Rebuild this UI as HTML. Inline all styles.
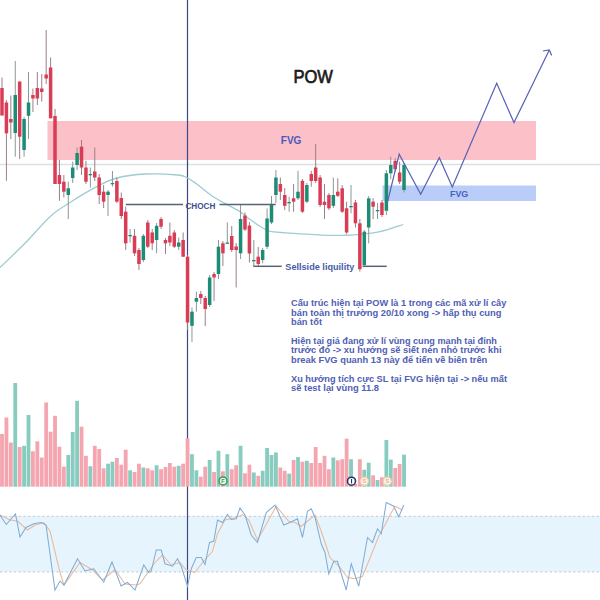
<!DOCTYPE html>
<html><head><meta charset="utf-8">
<style>
html,body{margin:0;padding:0;background:#fff;width:600px;height:600px;overflow:hidden}
svg{display:block}
text{font-family:"Liberation Sans",sans-serif}
</style></head><body>
<svg width="600" height="600" viewBox="0 0 600 600">
<rect width="600" height="600" fill="#ffffff"/>
<!-- FVG pink -->
<rect x="47.5" y="121" width="488.5" height="39" fill="#fbc0c8"/>
<!-- blue FVG -->
<rect x="382.5" y="185.5" width="153.5" height="15.5" fill="#b9cdf8"/>
<!-- gray horizontal line -->
<line x1="0" y1="164.5" x2="600" y2="164.5" stroke="#dcdfe3" stroke-width="1.6"/>
<!-- oscillator band -->
<rect x="0" y="516" width="600" height="56" fill="#e6f5fd"/>
<line x1="0" y1="516.3" x2="600" y2="516.3" stroke="#c2c5ca" stroke-width="1" stroke-dasharray="2,2.7"/>
<line x1="0" y1="572" x2="600" y2="572" stroke="#c2c5ca" stroke-width="1" stroke-dasharray="2,2.7"/>
<!-- vertical line -->
<line x1="187.5" y1="0" x2="187.5" y2="600" stroke="#3f4884" stroke-width="1.2"/>
<!-- volume -->
<rect x="0.10" y="434.0" width="3.8" height="52.7" fill="#f4a5af"/>
<rect x="4.52" y="417.5" width="3.8" height="69.2" fill="#f4a5af"/>
<rect x="8.94" y="442.5" width="3.8" height="44.2" fill="#f4a5af"/>
<rect x="13.35" y="383.0" width="3.8" height="103.7" fill="#88cbbf"/>
<rect x="17.77" y="447.0" width="3.8" height="39.7" fill="#f4a5af"/>
<rect x="22.19" y="445.8" width="3.8" height="40.9" fill="#88cbbf"/>
<rect x="26.61" y="415.0" width="3.8" height="71.7" fill="#88cbbf"/>
<rect x="31.03" y="451.3" width="3.8" height="35.4" fill="#f4a5af"/>
<rect x="35.44" y="441.3" width="3.8" height="45.4" fill="#f4a5af"/>
<rect x="39.86" y="457.5" width="3.8" height="29.2" fill="#f4a5af"/>
<rect x="44.28" y="402.5" width="3.8" height="84.2" fill="#f4a5af"/>
<rect x="48.70" y="431.7" width="3.8" height="55.0" fill="#f4a5af"/>
<rect x="53.12" y="415.8" width="3.8" height="70.9" fill="#f4a5af"/>
<rect x="57.53" y="446.7" width="3.8" height="40.0" fill="#f4a5af"/>
<rect x="61.95" y="466.7" width="3.8" height="20.0" fill="#f4a5af"/>
<rect x="66.37" y="455.0" width="3.8" height="31.7" fill="#88cbbf"/>
<rect x="70.79" y="432.0" width="3.8" height="54.7" fill="#88cbbf"/>
<rect x="75.21" y="400.8" width="3.8" height="85.9" fill="#88cbbf"/>
<rect x="79.62" y="426.7" width="3.8" height="60.0" fill="#f4a5af"/>
<rect x="84.04" y="455.8" width="3.8" height="30.9" fill="#f4a5af"/>
<rect x="88.46" y="466.3" width="3.8" height="20.4" fill="#88cbbf"/>
<rect x="92.88" y="445.8" width="3.8" height="40.9" fill="#f4a5af"/>
<rect x="97.30" y="449.0" width="3.8" height="37.7" fill="#f4a5af"/>
<rect x="101.71" y="468.3" width="3.8" height="18.4" fill="#f4a5af"/>
<rect x="106.13" y="463.7" width="3.8" height="23.0" fill="#88cbbf"/>
<rect x="110.55" y="461.7" width="3.8" height="25.0" fill="#88cbbf"/>
<rect x="114.97" y="458.0" width="3.8" height="28.7" fill="#f4a5af"/>
<rect x="119.39" y="464.7" width="3.8" height="22.0" fill="#f4a5af"/>
<rect x="123.80" y="449.7" width="3.8" height="37.0" fill="#f4a5af"/>
<rect x="128.22" y="470.3" width="3.8" height="16.4" fill="#88cbbf"/>
<rect x="132.64" y="472.0" width="3.8" height="14.7" fill="#f4a5af"/>
<rect x="137.06" y="463.7" width="3.8" height="23.0" fill="#f4a5af"/>
<rect x="141.48" y="467.5" width="3.8" height="19.2" fill="#88cbbf"/>
<rect x="145.89" y="468.3" width="3.8" height="18.4" fill="#f4a5af"/>
<rect x="150.31" y="470.3" width="3.8" height="16.4" fill="#f4a5af"/>
<rect x="154.73" y="465.3" width="3.8" height="21.4" fill="#88cbbf"/>
<rect x="159.15" y="469.2" width="3.8" height="17.5" fill="#f4a5af"/>
<rect x="163.57" y="467.0" width="3.8" height="19.7" fill="#f4a5af"/>
<rect x="167.98" y="463.0" width="3.8" height="23.7" fill="#f4a5af"/>
<rect x="172.40" y="466.7" width="3.8" height="20.0" fill="#f4a5af"/>
<rect x="176.82" y="465.8" width="3.8" height="20.9" fill="#88cbbf"/>
<rect x="181.24" y="463.7" width="3.8" height="23.0" fill="#f4a5af"/>
<rect x="185.66" y="438.3" width="3.8" height="48.4" fill="#f4a5af"/>
<rect x="190.07" y="454.2" width="3.8" height="32.5" fill="#88cbbf"/>
<rect x="194.49" y="470.3" width="3.8" height="16.4" fill="#88cbbf"/>
<rect x="198.91" y="476.7" width="3.8" height="10.0" fill="#f4a5af"/>
<rect x="203.33" y="466.7" width="3.8" height="20.0" fill="#f4a5af"/>
<rect x="207.75" y="460.0" width="3.8" height="26.7" fill="#88cbbf"/>
<rect x="212.16" y="472.0" width="3.8" height="14.7" fill="#f4a5af"/>
<rect x="216.58" y="450.8" width="3.8" height="35.9" fill="#88cbbf"/>
<rect x="221.00" y="471.3" width="3.8" height="15.4" fill="#f4a5af"/>
<rect x="225.42" y="454.2" width="3.8" height="32.5" fill="#88cbbf"/>
<rect x="229.84" y="469.2" width="3.8" height="17.5" fill="#f4a5af"/>
<rect x="234.25" y="465.3" width="3.8" height="21.4" fill="#f4a5af"/>
<rect x="238.67" y="445.8" width="3.8" height="40.9" fill="#88cbbf"/>
<rect x="243.09" y="473.3" width="3.8" height="13.4" fill="#f4a5af"/>
<rect x="247.51" y="464.7" width="3.8" height="22.0" fill="#f4a5af"/>
<rect x="251.93" y="472.5" width="3.8" height="14.2" fill="#88cbbf"/>
<rect x="256.34" y="475.8" width="3.8" height="10.9" fill="#f4a5af"/>
<rect x="260.76" y="470.8" width="3.8" height="15.9" fill="#88cbbf"/>
<rect x="265.18" y="448.0" width="3.8" height="38.7" fill="#88cbbf"/>
<rect x="269.60" y="455.0" width="3.8" height="31.7" fill="#88cbbf"/>
<rect x="274.02" y="452.5" width="3.8" height="34.2" fill="#88cbbf"/>
<rect x="278.43" y="467.5" width="3.8" height="19.2" fill="#f4a5af"/>
<rect x="282.85" y="470.8" width="3.8" height="15.9" fill="#f4a5af"/>
<rect x="287.27" y="473.7" width="3.8" height="13.0" fill="#88cbbf"/>
<rect x="291.69" y="460.0" width="3.8" height="26.7" fill="#f4a5af"/>
<rect x="296.11" y="457.0" width="3.8" height="29.7" fill="#88cbbf"/>
<rect x="300.52" y="461.7" width="3.8" height="25.0" fill="#f4a5af"/>
<rect x="304.94" y="460.8" width="3.8" height="25.9" fill="#88cbbf"/>
<rect x="309.36" y="463.0" width="3.8" height="23.7" fill="#f4a5af"/>
<rect x="313.78" y="447.0" width="3.8" height="39.7" fill="#f4a5af"/>
<rect x="318.20" y="463.0" width="3.8" height="23.7" fill="#f4a5af"/>
<rect x="322.61" y="455.8" width="3.8" height="30.9" fill="#f4a5af"/>
<rect x="327.03" y="469.2" width="3.8" height="17.5" fill="#f4a5af"/>
<rect x="331.45" y="457.5" width="3.8" height="29.2" fill="#88cbbf"/>
<rect x="335.87" y="460.3" width="3.8" height="26.4" fill="#f4a5af"/>
<rect x="340.29" y="459.2" width="3.8" height="27.5" fill="#f4a5af"/>
<rect x="344.70" y="438.7" width="3.8" height="48.0" fill="#f4a5af"/>
<rect x="349.12" y="459.2" width="3.8" height="27.5" fill="#88cbbf"/>
<rect x="353.54" y="484.0" width="3.8" height="2.7" fill="#f4a5af"/>
<rect x="357.96" y="459.2" width="3.8" height="27.5" fill="#f4a5af"/>
<rect x="362.38" y="469.7" width="3.8" height="17.0" fill="#88cbbf"/>
<rect x="366.79" y="462.7" width="3.8" height="24.0" fill="#88cbbf"/>
<rect x="371.21" y="475.3" width="3.8" height="11.4" fill="#f4a5af"/>
<rect x="375.63" y="480.0" width="3.8" height="6.7" fill="#88cbbf"/>
<rect x="380.05" y="477.3" width="3.8" height="9.4" fill="#f4a5af"/>
<rect x="384.47" y="440.0" width="3.8" height="46.7" fill="#88cbbf"/>
<rect x="388.88" y="459.6" width="3.8" height="27.1" fill="#88cbbf"/>
<rect x="393.30" y="468.0" width="3.8" height="18.7" fill="#f4a5af"/>
<rect x="397.72" y="464.0" width="3.8" height="22.7" fill="#f4a5af"/>
<rect x="402.14" y="454.7" width="3.8" height="32.0" fill="#88cbbf"/>
<!-- MA -->
<path d="M0,267.5 C4.17,263.47 16.67,251.77 25,243.3 C33.33,234.83 42.50,223.50 50,216.7 C57.50,209.90 62.22,207.50 70,202.5 C77.78,197.50 88.92,190.78 96.7,186.7 C104.48,182.62 108.65,180.12 116.7,178 C124.75,175.88 134.78,174.50 145,174 C155.22,173.50 170.92,174.33 178,175 C185.08,175.67 184.38,176.50 187.5,178 C190.62,179.50 192.40,180.88 196.7,184 C201.00,187.12 206.08,192.08 213.3,196.7 C220.52,201.32 234.22,208.15 240,211.7 C245.78,215.25 244.12,215.23 248,218 C251.88,220.77 259.35,226.02 263.3,228.3 C267.25,230.58 266.75,230.87 271.7,231.7 C276.65,232.53 283.83,232.70 293,233.3 C302.17,233.90 318.32,234.97 326.7,235.3 C335.08,235.63 338.30,235.40 343.3,235.3 C348.30,235.20 350.58,235.30 356.7,234.7 C362.82,234.10 372.23,233.40 380,231.7 C387.77,230.00 399.42,225.70 403.3,224.5" fill="none" stroke="#9dccd2" stroke-width="1.3"/>
<!-- candles -->
<line x1="2.00" y1="77.5" x2="2.00" y2="115.5" stroke="#9c7f88" stroke-width="1"/>
<rect x="0.25" y="88.0" width="3.5" height="27.5" fill="#da3c56"/>
<line x1="6.42" y1="100.0" x2="6.42" y2="180.8" stroke="#9c7f88" stroke-width="1"/>
<rect x="4.67" y="102.5" width="3.5" height="30.8" fill="#da3c56"/>
<line x1="10.84" y1="95.5" x2="10.84" y2="139.0" stroke="#9c7f88" stroke-width="1"/>
<rect x="9.09" y="119.0" width="3.5" height="3.5" fill="#da3c56"/>
<line x1="15.25" y1="61.0" x2="15.25" y2="156.7" stroke="#8a9995" stroke-width="1"/>
<rect x="13.50" y="95.0" width="3.5" height="38.0" fill="#1d8c74"/>
<line x1="19.67" y1="81.5" x2="19.67" y2="159.0" stroke="#9c7f88" stroke-width="1"/>
<rect x="17.92" y="81.5" width="3.5" height="55.2" fill="#da3c56"/>
<line x1="24.09" y1="117.0" x2="24.09" y2="156.7" stroke="#8a9995" stroke-width="1"/>
<rect x="22.34" y="119.0" width="3.5" height="31.0" fill="#1d8c74"/>
<line x1="28.51" y1="72.0" x2="28.51" y2="139.0" stroke="#8a9995" stroke-width="1"/>
<rect x="26.76" y="102.5" width="3.5" height="13.3" fill="#1d8c74"/>
<line x1="32.93" y1="88.5" x2="32.93" y2="112.0" stroke="#9c7f88" stroke-width="1"/>
<rect x="31.18" y="95.0" width="3.5" height="3.5" fill="#da3c56"/>
<line x1="37.34" y1="72.0" x2="37.34" y2="105.0" stroke="#9c7f88" stroke-width="1"/>
<rect x="35.59" y="88.0" width="3.5" height="10.5" fill="#da3c56"/>
<line x1="41.76" y1="74.0" x2="41.76" y2="101.7" stroke="#9c7f88" stroke-width="1"/>
<rect x="40.01" y="88.5" width="3.5" height="3.5" fill="#da3c56"/>
<line x1="46.18" y1="30.0" x2="46.18" y2="84.0" stroke="#9c7f88" stroke-width="1"/>
<rect x="44.43" y="74.5" width="3.5" height="4.0" fill="#da3c56"/>
<line x1="50.60" y1="57.5" x2="50.60" y2="118.3" stroke="#9c7f88" stroke-width="1"/>
<rect x="48.85" y="67.5" width="3.5" height="50.8" fill="#da3c56"/>
<line x1="55.02" y1="109.0" x2="55.02" y2="184.0" stroke="#9c7f88" stroke-width="1"/>
<rect x="53.27" y="116.0" width="3.5" height="68.0" fill="#da3c56"/>
<line x1="59.43" y1="160.0" x2="59.43" y2="200.8" stroke="#9c7f88" stroke-width="1"/>
<rect x="57.68" y="175.0" width="3.5" height="9.0" fill="#da3c56"/>
<line x1="63.85" y1="175.0" x2="63.85" y2="197.5" stroke="#9c7f88" stroke-width="1"/>
<rect x="62.10" y="181.7" width="3.5" height="10.0" fill="#da3c56"/>
<line x1="68.27" y1="181.7" x2="68.27" y2="219.0" stroke="#8a9995" stroke-width="1"/>
<rect x="66.52" y="188.3" width="3.5" height="6.7" fill="#1d8c74"/>
<line x1="72.69" y1="161.7" x2="72.69" y2="183.0" stroke="#8a9995" stroke-width="1"/>
<rect x="70.94" y="167.5" width="3.5" height="10.5" fill="#1d8c74"/>
<line x1="77.11" y1="147.5" x2="77.11" y2="170.0" stroke="#8a9995" stroke-width="1"/>
<rect x="75.36" y="153.0" width="3.5" height="12.0" fill="#1d8c74"/>
<line x1="81.52" y1="140.0" x2="81.52" y2="175.0" stroke="#9c7f88" stroke-width="1"/>
<rect x="79.77" y="146.7" width="3.5" height="20.8" fill="#da3c56"/>
<line x1="85.94" y1="160.8" x2="85.94" y2="184.0" stroke="#9c7f88" stroke-width="1"/>
<rect x="84.19" y="167.5" width="3.5" height="14.2" fill="#da3c56"/>
<line x1="90.36" y1="167.5" x2="90.36" y2="187.5" stroke="#8a9995" stroke-width="1"/>
<rect x="88.61" y="174.0" width="3.5" height="1.3" fill="#1d8c74"/>
<line x1="94.78" y1="147.5" x2="94.78" y2="181.0" stroke="#9c7f88" stroke-width="1"/>
<rect x="93.03" y="171.5" width="3.5" height="6.0" fill="#da3c56"/>
<line x1="99.20" y1="174.0" x2="99.20" y2="204.0" stroke="#9c7f88" stroke-width="1"/>
<rect x="97.45" y="177.5" width="3.5" height="17.5" fill="#da3c56"/>
<line x1="103.61" y1="185.0" x2="103.61" y2="208.0" stroke="#9c7f88" stroke-width="1"/>
<rect x="101.86" y="191.7" width="3.5" height="10.0" fill="#da3c56"/>
<line x1="108.03" y1="190.0" x2="108.03" y2="216.0" stroke="#8a9995" stroke-width="1"/>
<rect x="106.28" y="191.7" width="3.5" height="3.3" fill="#1d8c74"/>
<line x1="112.45" y1="171.0" x2="112.45" y2="186.7" stroke="#8a9995" stroke-width="1"/>
<rect x="110.70" y="183.0" width="3.5" height="1.3" fill="#1d8c74"/>
<line x1="116.87" y1="177.5" x2="116.87" y2="203.0" stroke="#9c7f88" stroke-width="1"/>
<rect x="115.12" y="181.0" width="3.5" height="20.7" fill="#da3c56"/>
<line x1="121.29" y1="192.5" x2="121.29" y2="219.0" stroke="#9c7f88" stroke-width="1"/>
<rect x="119.54" y="198.0" width="3.5" height="18.0" fill="#da3c56"/>
<line x1="125.70" y1="206.7" x2="125.70" y2="250.0" stroke="#9c7f88" stroke-width="1"/>
<rect x="123.95" y="211.7" width="3.5" height="31.6" fill="#da3c56"/>
<line x1="130.12" y1="229.0" x2="130.12" y2="242.5" stroke="#8a9995" stroke-width="1"/>
<rect x="128.37" y="235.0" width="3.5" height="1.3" fill="#1d8c74"/>
<line x1="134.54" y1="229.0" x2="134.54" y2="256.0" stroke="#9c7f88" stroke-width="1"/>
<rect x="132.79" y="235.8" width="3.5" height="17.5" fill="#da3c56"/>
<line x1="138.96" y1="248.0" x2="138.96" y2="270.0" stroke="#9c7f88" stroke-width="1"/>
<rect x="137.21" y="250.0" width="3.5" height="14.0" fill="#da3c56"/>
<line x1="143.38" y1="234.0" x2="143.38" y2="262.0" stroke="#8a9995" stroke-width="1"/>
<rect x="141.63" y="235.8" width="3.5" height="24.2" fill="#1d8c74"/>
<line x1="147.79" y1="220.0" x2="147.79" y2="248.0" stroke="#9c7f88" stroke-width="1"/>
<rect x="146.04" y="222.5" width="3.5" height="24.2" fill="#da3c56"/>
<line x1="152.21" y1="229.0" x2="152.21" y2="250.0" stroke="#9c7f88" stroke-width="1"/>
<rect x="150.46" y="232.5" width="3.5" height="10.8" fill="#da3c56"/>
<line x1="156.63" y1="223.0" x2="156.63" y2="253.3" stroke="#8a9995" stroke-width="1"/>
<rect x="154.88" y="225.8" width="3.5" height="14.2" fill="#1d8c74"/>
<line x1="161.05" y1="217.0" x2="161.05" y2="229.0" stroke="#9c7f88" stroke-width="1"/>
<rect x="159.30" y="219.0" width="3.5" height="7.7" fill="#da3c56"/>
<line x1="165.47" y1="238.0" x2="165.47" y2="254.0" stroke="#9c7f88" stroke-width="1"/>
<rect x="163.72" y="240.0" width="3.5" height="3.3" fill="#da3c56"/>
<line x1="169.88" y1="222.5" x2="169.88" y2="246.0" stroke="#9c7f88" stroke-width="1"/>
<rect x="168.13" y="235.8" width="3.5" height="6.7" fill="#da3c56"/>
<line x1="174.30" y1="230.0" x2="174.30" y2="248.0" stroke="#9c7f88" stroke-width="1"/>
<rect x="172.55" y="232.5" width="3.5" height="14.2" fill="#da3c56"/>
<line x1="178.72" y1="237.5" x2="178.72" y2="250.0" stroke="#8a9995" stroke-width="1"/>
<rect x="176.97" y="242.5" width="3.5" height="4.2" fill="#1d8c74"/>
<line x1="183.14" y1="232.5" x2="183.14" y2="257.0" stroke="#9c7f88" stroke-width="1"/>
<rect x="181.39" y="240.0" width="3.5" height="16.7" fill="#da3c56"/>
<line x1="187.56" y1="255.0" x2="187.56" y2="330.0" stroke="#9c7f88" stroke-width="1"/>
<rect x="185.81" y="256.7" width="3.5" height="65.8" fill="#da3c56"/>
<line x1="191.97" y1="307.5" x2="191.97" y2="342.0" stroke="#8a9995" stroke-width="1"/>
<rect x="190.22" y="311.7" width="3.5" height="14.1" fill="#1d8c74"/>
<line x1="196.39" y1="291.7" x2="196.39" y2="311.7" stroke="#8a9995" stroke-width="1"/>
<rect x="194.64" y="298.0" width="3.5" height="3.7" fill="#1d8c74"/>
<line x1="200.81" y1="291.0" x2="200.81" y2="304.0" stroke="#9c7f88" stroke-width="1"/>
<rect x="199.06" y="294.0" width="3.5" height="4.0" fill="#da3c56"/>
<line x1="205.23" y1="296.0" x2="205.23" y2="326.0" stroke="#9c7f88" stroke-width="1"/>
<rect x="203.48" y="298.0" width="3.5" height="11.0" fill="#da3c56"/>
<line x1="209.65" y1="275.0" x2="209.65" y2="307.0" stroke="#8a9995" stroke-width="1"/>
<rect x="207.90" y="277.5" width="3.5" height="27.5" fill="#1d8c74"/>
<line x1="214.06" y1="272.0" x2="214.06" y2="301.0" stroke="#9c7f88" stroke-width="1"/>
<rect x="212.31" y="274.0" width="3.5" height="3.5" fill="#da3c56"/>
<line x1="218.48" y1="240.0" x2="218.48" y2="279.0" stroke="#8a9995" stroke-width="1"/>
<rect x="216.73" y="246.7" width="3.5" height="27.3" fill="#1d8c74"/>
<line x1="222.90" y1="241.0" x2="222.90" y2="266.0" stroke="#9c7f88" stroke-width="1"/>
<rect x="221.15" y="243.3" width="3.5" height="10.0" fill="#da3c56"/>
<line x1="227.32" y1="222.5" x2="227.32" y2="243.8" stroke="#8a9995" stroke-width="1"/>
<rect x="225.57" y="242.5" width="3.5" height="1.3" fill="#1d8c74"/>
<line x1="231.74" y1="226.0" x2="231.74" y2="252.0" stroke="#9c7f88" stroke-width="1"/>
<rect x="229.99" y="236.0" width="3.5" height="14.0" fill="#da3c56"/>
<line x1="236.15" y1="243.0" x2="236.15" y2="287.5" stroke="#9c7f88" stroke-width="1"/>
<rect x="234.40" y="246.5" width="3.5" height="3.5" fill="#da3c56"/>
<line x1="240.57" y1="205.0" x2="240.57" y2="259.0" stroke="#8a9995" stroke-width="1"/>
<rect x="238.82" y="219.0" width="3.5" height="34.3" fill="#1d8c74"/>
<line x1="244.99" y1="212.5" x2="244.99" y2="231.0" stroke="#9c7f88" stroke-width="1"/>
<rect x="243.24" y="215.5" width="3.5" height="14.0" fill="#da3c56"/>
<line x1="249.41" y1="222.0" x2="249.41" y2="262.5" stroke="#9c7f88" stroke-width="1"/>
<rect x="247.66" y="225.5" width="3.5" height="28.0" fill="#da3c56"/>
<line x1="253.83" y1="240.0" x2="253.83" y2="266.0" stroke="#8a9995" stroke-width="1"/>
<rect x="252.08" y="260.0" width="3.5" height="1.3" fill="#1d8c74"/>
<line x1="258.24" y1="247.0" x2="258.24" y2="266.0" stroke="#9c7f88" stroke-width="1"/>
<rect x="256.49" y="256.7" width="3.5" height="7.3" fill="#da3c56"/>
<line x1="262.66" y1="248.0" x2="262.66" y2="263.3" stroke="#8a9995" stroke-width="1"/>
<rect x="260.91" y="250.0" width="3.5" height="10.0" fill="#1d8c74"/>
<line x1="267.08" y1="208.5" x2="267.08" y2="249.0" stroke="#8a9995" stroke-width="1"/>
<rect x="265.33" y="218.5" width="3.5" height="28.2" fill="#1d8c74"/>
<line x1="271.50" y1="196.0" x2="271.50" y2="224.0" stroke="#8a9995" stroke-width="1"/>
<rect x="269.75" y="205.0" width="3.5" height="17.5" fill="#1d8c74"/>
<line x1="275.92" y1="170.0" x2="275.92" y2="203.0" stroke="#8a9995" stroke-width="1"/>
<rect x="274.17" y="177.5" width="3.5" height="17.5" fill="#1d8c74"/>
<line x1="280.33" y1="177.5" x2="280.33" y2="200.0" stroke="#9c7f88" stroke-width="1"/>
<rect x="278.58" y="184.0" width="3.5" height="7.7" fill="#da3c56"/>
<line x1="284.75" y1="188.0" x2="284.75" y2="210.0" stroke="#9c7f88" stroke-width="1"/>
<rect x="283.00" y="195.0" width="3.5" height="10.8" fill="#da3c56"/>
<line x1="289.17" y1="196.7" x2="289.17" y2="211.7" stroke="#8a9995" stroke-width="1"/>
<rect x="287.42" y="202.0" width="3.5" height="1.3" fill="#1d8c74"/>
<line x1="293.59" y1="184.0" x2="293.59" y2="211.7" stroke="#9c7f88" stroke-width="1"/>
<rect x="291.84" y="198.3" width="3.5" height="3.4" fill="#da3c56"/>
<line x1="298.01" y1="170.8" x2="298.01" y2="200.0" stroke="#8a9995" stroke-width="1"/>
<rect x="296.26" y="191.7" width="3.5" height="6.6" fill="#1d8c74"/>
<line x1="302.42" y1="179.0" x2="302.42" y2="213.0" stroke="#9c7f88" stroke-width="1"/>
<rect x="300.67" y="180.8" width="3.5" height="30.9" fill="#da3c56"/>
<line x1="306.84" y1="183.0" x2="306.84" y2="203.0" stroke="#8a9995" stroke-width="1"/>
<rect x="305.09" y="185.0" width="3.5" height="16.7" fill="#1d8c74"/>
<line x1="311.26" y1="170.8" x2="311.26" y2="186.7" stroke="#9c7f88" stroke-width="1"/>
<rect x="309.51" y="174.0" width="3.5" height="7.0" fill="#da3c56"/>
<line x1="315.68" y1="144.0" x2="315.68" y2="183.0" stroke="#9c7f88" stroke-width="1"/>
<rect x="313.93" y="167.5" width="3.5" height="13.5" fill="#da3c56"/>
<line x1="320.10" y1="175.0" x2="320.10" y2="207.0" stroke="#9c7f88" stroke-width="1"/>
<rect x="318.35" y="177.5" width="3.5" height="27.5" fill="#da3c56"/>
<line x1="324.51" y1="184.0" x2="324.51" y2="219.0" stroke="#9c7f88" stroke-width="1"/>
<rect x="322.76" y="201.7" width="3.5" height="3.3" fill="#da3c56"/>
<line x1="328.93" y1="193.0" x2="328.93" y2="210.0" stroke="#9c7f88" stroke-width="1"/>
<rect x="327.18" y="195.0" width="3.5" height="13.3" fill="#da3c56"/>
<line x1="333.35" y1="177.5" x2="333.35" y2="208.0" stroke="#8a9995" stroke-width="1"/>
<rect x="331.60" y="195.0" width="3.5" height="10.8" fill="#1d8c74"/>
<line x1="337.77" y1="178.3" x2="337.77" y2="197.0" stroke="#9c7f88" stroke-width="1"/>
<rect x="336.02" y="191.7" width="3.5" height="4.1" fill="#da3c56"/>
<line x1="342.19" y1="185.0" x2="342.19" y2="213.0" stroke="#9c7f88" stroke-width="1"/>
<rect x="340.44" y="188.3" width="3.5" height="23.4" fill="#da3c56"/>
<line x1="346.60" y1="201.7" x2="346.60" y2="234.0" stroke="#9c7f88" stroke-width="1"/>
<rect x="344.85" y="208.3" width="3.5" height="24.2" fill="#da3c56"/>
<line x1="351.02" y1="185.0" x2="351.02" y2="213.3" stroke="#8a9995" stroke-width="1"/>
<rect x="349.27" y="206.0" width="3.5" height="1.3" fill="#1d8c74"/>
<line x1="355.44" y1="200.0" x2="355.44" y2="227.5" stroke="#9c7f88" stroke-width="1"/>
<rect x="353.69" y="202.5" width="3.5" height="20.8" fill="#da3c56"/>
<line x1="359.86" y1="219.0" x2="359.86" y2="271.7" stroke="#9c7f88" stroke-width="1"/>
<rect x="358.11" y="223.3" width="3.5" height="45.9" fill="#da3c56"/>
<line x1="364.28" y1="230.0" x2="364.28" y2="267.0" stroke="#8a9995" stroke-width="1"/>
<rect x="362.53" y="231.7" width="3.5" height="33.3" fill="#1d8c74"/>
<line x1="368.69" y1="196.0" x2="368.69" y2="243.3" stroke="#8a9995" stroke-width="1"/>
<rect x="366.94" y="198.3" width="3.5" height="29.2" fill="#1d8c74"/>
<line x1="373.11" y1="198.3" x2="373.11" y2="219.0" stroke="#9c7f88" stroke-width="1"/>
<rect x="371.36" y="201.7" width="3.5" height="5.0" fill="#da3c56"/>
<line x1="377.53" y1="203.0" x2="377.53" y2="219.0" stroke="#8a9995" stroke-width="1"/>
<rect x="375.78" y="210.0" width="3.5" height="1.3" fill="#1d8c74"/>
<line x1="381.95" y1="200.0" x2="381.95" y2="217.0" stroke="#9c7f88" stroke-width="1"/>
<rect x="380.20" y="202.5" width="3.5" height="12.5" fill="#da3c56"/>
<line x1="386.37" y1="170.0" x2="386.37" y2="215.0" stroke="#8a9995" stroke-width="1"/>
<rect x="384.62" y="173.3" width="3.5" height="37.5" fill="#1d8c74"/>
<line x1="390.78" y1="156.7" x2="390.78" y2="179.0" stroke="#8a9995" stroke-width="1"/>
<rect x="389.03" y="165.0" width="3.5" height="8.3" fill="#1d8c74"/>
<line x1="395.20" y1="158.3" x2="395.20" y2="172.0" stroke="#9c7f88" stroke-width="1"/>
<rect x="393.45" y="160.8" width="3.5" height="8.4" fill="#da3c56"/>
<line x1="399.62" y1="161.7" x2="399.62" y2="184.0" stroke="#9c7f88" stroke-width="1"/>
<rect x="397.87" y="172.5" width="3.5" height="9.2" fill="#da3c56"/>
<line x1="404.04" y1="163.0" x2="404.04" y2="192.5" stroke="#8a9995" stroke-width="1"/>
<rect x="402.29" y="165.0" width="3.5" height="25.0" fill="#1d8c74"/>
<!-- CHOCH line -->
<line x1="125.8" y1="204.6" x2="183" y2="204.6" stroke="#5a6275" stroke-width="1.5"/>
<line x1="219.5" y1="204.6" x2="275.8" y2="204.6" stroke="#5a6275" stroke-width="1.5"/>
<text x="185.4" y="208.6" font-size="9" font-weight="bold" fill="#41518f" textLength="30" lengthAdjust="spacingAndGlyphs">CHOCH</text>
<!-- sellside -->
<line x1="253.3" y1="266.3" x2="281.7" y2="266.3" stroke="#5a6275" stroke-width="1.5"/>
<line x1="362.5" y1="266.3" x2="386.7" y2="266.3" stroke="#5a6275" stroke-width="1.5"/>
<text x="285.3" y="270" font-size="9.2" font-weight="bold" fill="#4a5aa8" textLength="69" lengthAdjust="spacingAndGlyphs">Sellside liquility</text>
<!-- FVG labels -->
<text x="280.8" y="144" font-size="10.2" font-weight="bold" fill="#4a5ab8" textLength="20.6" lengthAdjust="spacingAndGlyphs">FVG</text>
<text x="450" y="197.3" font-size="9.8" font-weight="bold" fill="#4862c4" textLength="18.3" lengthAdjust="spacingAndGlyphs">FVG</text>
<!-- zigzag -->
<polyline points="387.5,202 399.2,154.2 420.7,194.3 439.3,157.7 452.3,187 496.7,83.3 514,122.5 549.3,50" fill="none" stroke="#5662b6" stroke-width="1.2" stroke-linejoin="miter"/>
<polyline points="543,51 549.3,50 551.7,55.5" fill="none" stroke="#5662b6" stroke-width="1.2"/>
<!-- title -->
<text x="293.4" y="83" font-size="18" fill="#1a1a1a" stroke="#1a1a1a" stroke-width="0.7" textLength="39.4" lengthAdjust="spacingAndGlyphs">POW</text>
<!-- circles -->
<circle cx="223" cy="480.9" r="4" fill="#eaf7e6" stroke="#3c9a58" stroke-width="1.5"/>
<text x="223" y="483" font-size="5.5" font-weight="bold" fill="#4f8a5a" text-anchor="middle">F</text>
<circle cx="351.5" cy="481.2" r="4" fill="#fff" stroke="#2d2f63" stroke-width="1.6"/>
<rect x="351" y="479" width="1.1" height="4.4" fill="#2d2f63"/>
<circle cx="364.4" cy="481.2" r="4" fill="#fff6ec" stroke="#f3cfaa" stroke-width="1.4"/>
<text x="364.4" y="483.2" font-size="5.5" font-weight="bold" fill="#e0b08a" text-anchor="middle">S</text>
<circle cx="387.3" cy="481.2" r="4" fill="#fff6ec" stroke="#f3cfaa" stroke-width="1.4"/>
<text x="387.3" y="483.2" font-size="5.5" font-weight="bold" fill="#e0b08a" text-anchor="middle">S</text>
<!-- stoch -->
<polyline points="0,515 10,520 17.5,521 27.5,530 35,525 43.75,522.5 50,531 60,572.5 64,585 80,562.5 92.5,570 102.5,580 115,569.5 125,584 136,585 140,583.75 155,562.5 162.5,555 171.25,565 180,562.5 186.25,570 195,572.5 202.5,562.5 212.5,551.25 217.5,533.75 225,520 236.25,517.5 242.5,514.5 248.75,520 257.5,540 270,517.5 276.25,506.25 288.75,521.25 295,522.5 301.25,526.25 315,515 321.25,531.25 330,557.5 340,567.5 347.5,577.5 355,578.75 362.5,576.25 371.25,555 378.75,536.25 385,525 390,515 395,506.25 402.5,510" fill="none" stroke="#ebb899" stroke-width="1.05"/>
<polyline points="0,515 6.25,524.5 15.5,514 20,537 26,527.5 33.75,523.75 41,522.5 46,525 55,590 60,581 64,585 77.5,558.75 85,571 93.75,568.75 103.75,582 112,562 121,586 127.5,582.5 135,590 143.75,565 148.75,572.5 151.25,571 156.25,550 161.25,550 165,563.75 172.5,566.25 177.5,558.75 181.25,566.25 187.5,586.25 191.25,568.75 196.25,557.5 201.25,557.5 205,564.5 209.5,542.5 213.75,541.25 217.5,520 222.5,522.5 227.5,514.5 231.25,519.5 236.25,518.75 240,508 245,515 251.25,535 257.5,542.5 266.25,512.5 275,505 283.75,525 290,522.5 292.5,521.25 297.5,518.75 302.5,537.5 307.5,511.25 311.25,508.75 315,517.5 321.25,543.75 325,552.5 328.75,573.75 333.75,561.25 337.5,561.25 346.25,590 351.25,563.75 358.75,586.25 367.5,537.5 372.5,542.5 377.5,528.75 381.25,533.75 386.25,502.5 393.75,506.25 398.75,517 403.75,505" fill="none" stroke="#82acd4" stroke-width="1.05"/>
<!-- paragraph text -->
<g font-size="8.5" font-weight="bold" fill="#5060b4">
<text x="291" y="306.3" textLength="215.4" lengthAdjust="spacingAndGlyphs">Cấu trúc hiện tại POW là 1 trong các mã xử lí cây</text>
<text x="291" y="315.7" textLength="210.5" lengthAdjust="spacingAndGlyphs">bán toàn thị trường 20/10 xong -&gt; hấp thụ cung</text>
<text x="291" y="325.1" textLength="31" lengthAdjust="spacingAndGlyphs">bán tốt</text>
<text x="291" y="343.8" textLength="205.9" lengthAdjust="spacingAndGlyphs">Hiện tại giá đang xử lí vùng cung mạnh tại đỉnh</text>
<text x="291" y="353.2" textLength="210.5" lengthAdjust="spacingAndGlyphs">trước đó -&gt; xu hướng sẽ siết nén nhỏ trước khi</text>
<text x="291" y="362.6" textLength="196.3" lengthAdjust="spacingAndGlyphs">break FVG quanh 13 này để tiến về biên trên</text>
<text x="291" y="381.6" textLength="216" lengthAdjust="spacingAndGlyphs">Xu hướng tích cực SL tại FVG hiện tại -&gt; nếu mất</text>
<text x="291" y="391" textLength="88" lengthAdjust="spacingAndGlyphs">sẽ test lại vùng 11.8</text>
</g>
</svg>
</body></html>
